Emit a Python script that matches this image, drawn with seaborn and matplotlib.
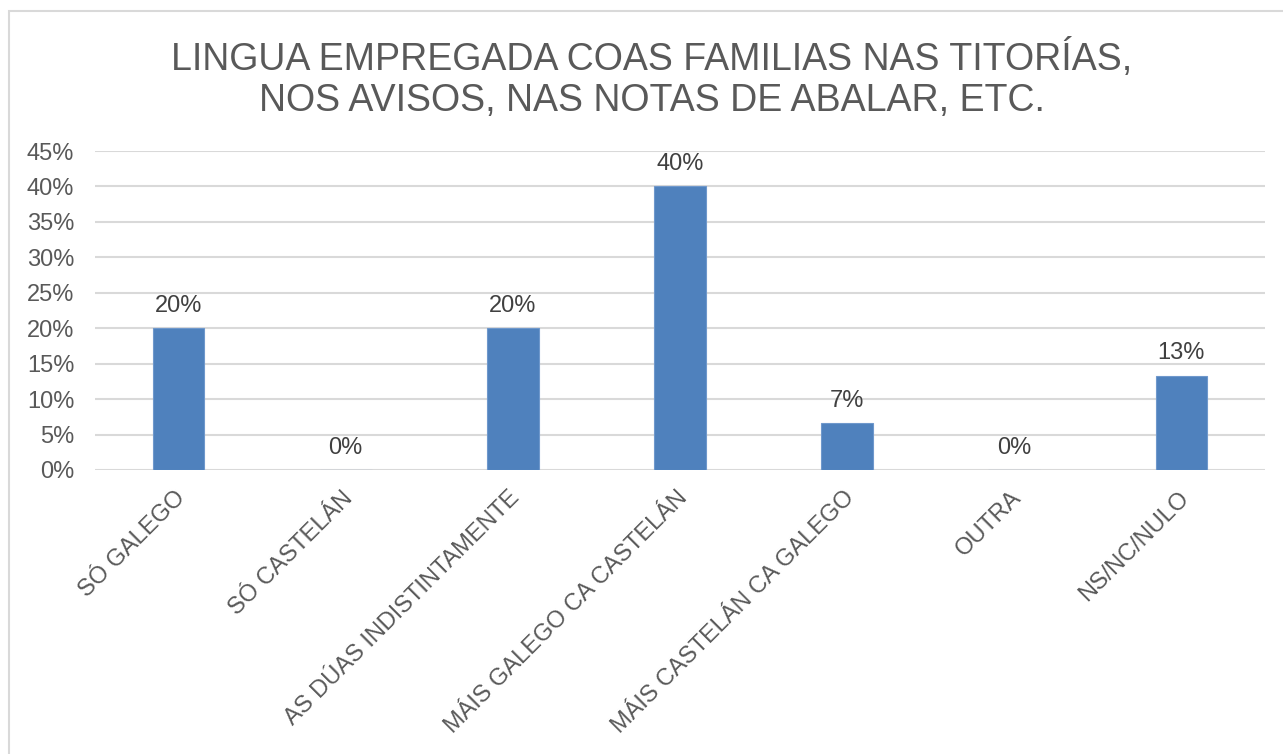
import matplotlib
matplotlib.use("Agg")
import matplotlib.pyplot as plt
import seaborn as sns
import pandas as pd
from matplotlib.patches import Rectangle
from matplotlib.ticker import MultipleLocator, FuncFormatter

categories = ["SÓ GALEGO", "SÓ CASTELÁN", "AS DÚAS INDISTINTAMENTE",
              "MÁIS GALEGO CA CASTELÁN", "MÁIS CASTELÁN CA GALEGO",
              "OUTRA", "NS/NC/NULO"]
values = [20.0, 0.0, 20.0, 40.0, 6.67, 0.0, 13.33]
title = "LINGUA EMPREGADA COAS FAMILIAS NAS TITORÍAS,\nNOS AVISOS, NAS NOTAS DE ABALAR, ETC."

sns.set_theme(style="white")
plt.rcParams['font.family'] = ['Liberation Sans', 'DejaVu Sans']

W, H = 1283, 754
fig = plt.figure(figsize=(W / 100, H / 100), dpi=100)
ax = fig.add_axes([95 / W, 1 - 470 / H, 1170 / W, 319 / H])

df = pd.DataFrame({"cat": categories, "val": values})
sns.barplot(data=df, x="cat", y="val", color="#4F81BD", saturation=1,
            width=0.31, ax=ax, edgecolor="#6F98CC", linewidth=0.8, zorder=3)

ax.set_ylim(0, 45)
ax.set_xlim(-0.5, len(categories) - 0.5)
ax.yaxis.set_major_locator(MultipleLocator(5))
ax.yaxis.set_major_formatter(FuncFormatter(lambda v, p: f"{v:.0f}%"))
ax.yaxis.grid(True, color="#D9D9D9", linewidth=1.5, zorder=0)
ax.set_axisbelow(True)
for s in ax.spines.values():
    s.set_visible(False)
ax.set_xlabel("")
ax.set_ylabel("")
ax.tick_params(axis="y", length=0, pad=15, labelsize=17, labelcolor="#595959")
ax.tick_params(axis="x", length=0)
ax.set_xticks(range(len(categories)))
ax.set_xticklabels(categories, rotation=45, ha="right", rotation_mode="anchor",
                   fontsize=17, color="#595959")
for lbl in ax.get_xticklabels():
    lbl.set_transform(lbl.get_transform() + matplotlib.transforms.ScaledTranslation(-4 / 100, -12 / 100, fig.dpi_scale_trans))

for i, v in enumerate(values):
    ax.annotate(f"{v:.0f}%", (i, v), xytext=(0, 8), textcoords="offset points",
                ha="center", va="bottom", fontsize=17, color="#404040")

fig.text(652 / W, 1 - 79 / H, title, ha="center", va="center", fontsize=27,
         color="#595959", linespacing=1.2)

fig.patches.append(Rectangle((9 / W, -0.1), 1.2, 1 - 11 / H + 0.1,
                             transform=fig.transFigure, fill=False,
                             edgecolor="#D9D9D9", linewidth=1.5))

fig.savefig("out.png", dpi=100)
